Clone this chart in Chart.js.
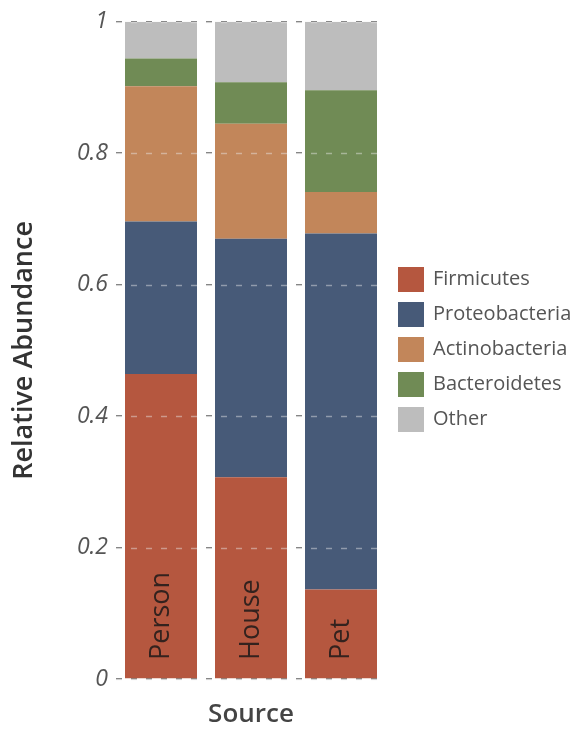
<!DOCTYPE html>
<html>
<head>
<meta charset="utf-8">
<script src="https://cdn.jsdelivr.net/npm/chart.js@4/dist/chart.umd.min.js"></script>
<style>
  html, body { margin:0; padding:0; background:#fff; }
  #wrap { width:576px; height:730px; position:relative; }
</style>
</head>
<body>
<div id="wrap"><canvas id="chart"></canvas></div>
<script>
/* ---- data ---- */
const sources   = ['Person', 'House', 'Pet'];
const phyla     = ['Firmicutes', 'Proteobacteria', 'Actinobacteria', 'Bacteroidetes', 'Other'];
const firmicutes     = [0.464, 0.307, 0.136];
const proteobacteria = [0.232, 0.363, 0.542];
const actinobacteria = [0.206, 0.175, 0.063];
const bacteroidetes  = [0.042, 0.063, 0.155];
const other          = [0.056, 0.092, 0.104];
const yTicks = [0, 0.2, 0.4, 0.6, 0.8, 1];

const colors = ['#b5573f', '#475a78', '#c2865a', '#708b55', '#bdbdbd'];
const series = [firmicutes, proteobacteria, actinobacteria, bacteroidetes, other];

const FONT = '"Open Sans", "Noto Sans", sans-serif';

// light dashes over the bars, like the reference
const overGrid = {
  id: 'overGrid',
  afterDatasetsDraw(chart) {
    const { ctx, chartArea: a, scales: { y } } = chart;
    ctx.save();
    ctx.strokeStyle = 'rgba(235,235,235,0.45)';
    ctx.lineWidth = 1.5;
    ctx.setLineDash([6, 9]);
    yTicks.forEach(t => {
      const py = Math.round(y.getPixelForValue(t)) + 0.5;
      ctx.beginPath(); ctx.moveTo(a.left, py); ctx.lineTo(a.right, py); ctx.stroke();
    });
    ctx.restore();
  }
};

// category names written upward inside the bottom of each bar
const barLabels = {
  id: 'barLabels',
  afterDatasetsDraw(chart) {
    const { ctx, scales: { x, y } } = chart;
    ctx.save();
    ctx.fillStyle = '#33221e';
    ctx.font = '500 27px ' + FONT;
    ctx.textAlign = 'left';
    ctx.textBaseline = 'middle';
    sources.forEach((s, i) => {
      ctx.save();
      ctx.translate(x.getPixelForValue(i), y.getPixelForValue(0) - 19);
      ctx.rotate(-Math.PI / 2);
      ctx.fillText(s, 0, 0);
      ctx.restore();
    });
    ctx.restore();
  }
};

// legend to the right of the plot, taken from the datasets
const sideLegend = {
  id: 'sideLegend',
  afterDraw(chart) {
    const { ctx, chartArea: a } = chart;
    const x0 = a.right + 12, y0 = 279.5, pitch = 35;
    ctx.save();
    ctx.font = '20px ' + FONT;
    ctx.textBaseline = 'middle';
    ctx.textAlign = 'left';
    chart.data.datasets.forEach((ds, i) => {
      const cy = y0 + i * pitch;
      ctx.fillStyle = ds.backgroundColor;
      ctx.fillRect(x0, cy - 12.5, 26, 25);
      ctx.fillStyle = '#555';
      ctx.fillText(ds.label, x0 + 35, cy);
    });
    ctx.restore();
  }
};

new Chart(document.getElementById('chart'), {
  type: 'bar',
  data: {
    labels: sources,
    datasets: phyla.map((p, i) => ({
      label: p,
      data: series[i],
      backgroundColor: colors[i],
      borderWidth: 0,
      barPercentage: 0.8,
      categoryPercentage: 1
    }))
  },
  options: {
    responsive: true,
    maintainAspectRatio: false,
    animation: false,
    layout: { padding: { top: 6, right: 190, left: 0, bottom: 0 } },
    plugins: {
      tooltip: { enabled: false },
      legend: { display: false }
    },
    scales: {
      x: {
        stacked: true,
        grid: { display: false },
        border: { display: false },
        ticks: { display: false },
        title: { display: true, text: 'Source', color: '#444',
                 font: { family: FONT, size: 26, weight: '600' }, padding: { top: 0, bottom: 0 } },
        afterFit(s) { s.height = 51; }
      },
      y: {
        stacked: true,
        min: 0, max: 1,
        afterBuildTicks(s) { s.ticks = yTicks.map(v => ({ value: v })); },
        grid: { color: '#7a7a7a', lineWidth: 1.5, drawTicks: false },
        border: { display: false, dash: [6, 9] },
        ticks: {
          padding: 8, color: '#555',
          font: { family: FONT, size: 23, style: 'italic' },
          callback: v => String(v)
        },
        title: { display: true, text: 'Relative Abundance', color: '#333',
                 font: { family: FONT, size: 27, weight: '600' }, padding: { top: 8, bottom: 0 } },
        afterFit(s) { s.width = 116; }
      }
    }
  },
  plugins: [overGrid, barLabels, sideLegend]
});
</script>
</body>
</html>
